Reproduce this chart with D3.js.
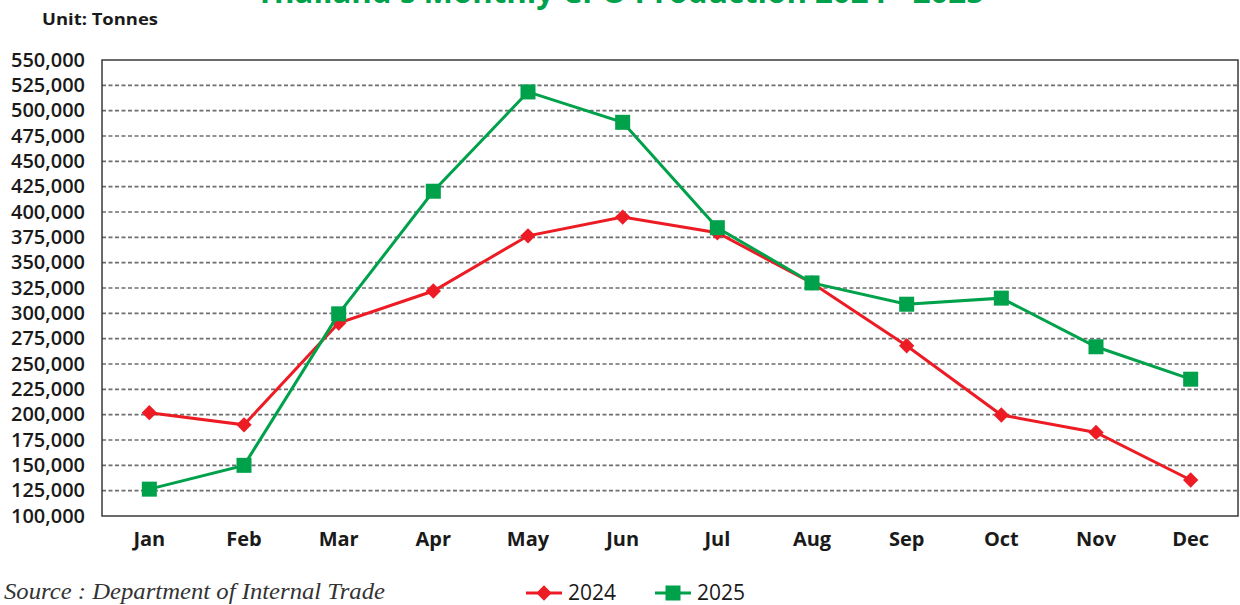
<!DOCTYPE html>
<html>
<head>
<meta charset="utf-8">
<script src="https://cdn.jsdelivr.net/npm/d3@7"></script>
<style>
  body { margin: 0; background: #fff; }
  svg { display: block; }
</style>
</head>
<body>
<div></div>
<script>
// chart data
var months = ["Jan", "Feb", "Mar", "Apr", "May", "Jun", "Jul", "Aug", "Sep", "Oct", "Nov", "Dec"];
var prod2024 = [202000, 190000, 290500, 322000, 376500, 395000, 379500, 330000, 268000, 199700, 182500, 135500];
var prod2025 = [126500, 150000, 299500, 420500, 518500, 488500, 384500, 330000, 309000, 315000, 267000, 235000];
var yTicks = d3.range(100000, 550001, 25000);

var W = 1240, H = 605;
var margin = {top: 60, right: 2, bottom: 89, left: 102},
    width = W - margin.left - margin.right,
    height = H - margin.top - margin.bottom;

var red = "#ed1c24", green = "#00a14b";

var svg = d3.select("div").append("svg")
    .attr("width", W)
    .attr("height", H);

var g = svg.append("g")
    .attr("transform", "translate(" + margin.left + "," + margin.top + ")");

var x = d3.scaleBand().domain(months).range([0, width]);
var y = d3.scaleLinear().domain([100000, 550000]).range([height, 0]);

// dashed grid lines
g.append("g")
    .selectAll("line")
    .data(yTicks.slice(1, -1))
    .enter().append("line")
    .attr("x1", 0)
    .attr("x2", width)
    .attr("y1", function(d) { return y(d); })
    .attr("y2", function(d) { return y(d); })
    .style("stroke", "#6d6d6d")
    .style("stroke-width", 1.6)
    .style("stroke-dasharray", "4,2.5");

// plot border
g.append("rect")
    .attr("width", width)
    .attr("height", height)
    .style("fill", "none")
    .style("stroke", "#3a3a3a")
    .style("stroke-width", 1.5);

// y axis
var yAxis = g.append("g")
    .call(d3.axisLeft(y).tickValues(yTicks).tickSize(0).tickPadding(17).tickFormat(d3.format(",")));
yAxis.select(".domain").remove();
yAxis.selectAll("text")
    .attr("textLength", 74)
    .attr("lengthAdjust", "spacingAndGlyphs")
    .style("font-family", "'Open Sans', sans-serif")
    .style("font-size", "19px")
    .style("font-weight", 600)
    .style("fill", "#1a1a1a");

// x axis
var xAxis = g.append("g")
    .attr("transform", "translate(0," + height + ")")
    .call(d3.axisBottom(x).tickSize(0).tickPadding(16));
xAxis.select(".domain").remove();
xAxis.selectAll("text")
    .style("font-family", "'Open Sans', sans-serif")
    .style("font-size", "20px")
    .style("font-weight", 700)
    .style("fill", "#1a1a1a");

var line = d3.line()
    .x(function(d, i) { return x(months[i]) + x.bandwidth() / 2; })
    .y(function(d) { return y(d); });

// 2024 line + diamonds
g.append("path")
    .datum(prod2024)
    .attr("d", line)
    .style("fill", "none")
    .style("stroke", red)
    .style("stroke-width", 3);

g.selectAll(".d2024")
    .data(prod2024)
    .enter().append("path")
    .attr("class", "d2024")
    .attr("d", d3.symbol().type(d3.symbolDiamond2).size(150))
    .attr("transform", function(d, i) {
        return "translate(" + (x(months[i]) + x.bandwidth() / 2) + "," + y(d) + ")";
    })
    .style("fill", red);

// 2025 line + squares
g.append("path")
    .datum(prod2025)
    .attr("d", line)
    .style("fill", "none")
    .style("stroke", green)
    .style("stroke-width", 3);

g.selectAll(".s2025")
    .data(prod2025)
    .enter().append("rect")
    .attr("class", "s2025")
    .attr("x", function(d, i) { return x(months[i]) + x.bandwidth() / 2 - 7.5; })
    .attr("y", function(d) { return y(d) - 7.5; })
    .attr("width", 15)
    .attr("height", 15)
    .style("fill", green);

// title (clipped at top, as in the original)
svg.append("text")
    .text("Thailand's Monthly CPO Production 2024 - 2025")
    .attr("x", 620)
    .attr("y", 3)
    .attr("text-anchor", "middle")
    .attr("textLength", 728)
    .attr("lengthAdjust", "spacingAndGlyphs")
    .style("font-family", "'Open Sans', sans-serif")
    .style("font-size", "30px")
    .style("font-weight", 700)
    .style("fill", green);

svg.append("text")
    .text("Unit: Tonnes")
    .attr("x", 42)
    .attr("y", 25)
    .attr("textLength", 116)
    .attr("lengthAdjust", "spacingAndGlyphs")
    .style("font-family", "'Open Sans', sans-serif")
    .style("font-size", "16px")
    .style("font-weight", 700)
    .style("fill", "#1a1a1a");

svg.append("text")
    .text("Source : Department of Internal Trade")
    .attr("x", 4)
    .attr("y", 599)
    .attr("textLength", 381)
    .attr("lengthAdjust", "spacingAndGlyphs")
    .style("font-family", "'Liberation Serif', serif")
    .style("font-size", "24px")
    .style("font-style", "italic")
    .style("fill", "#333");

// legend
var legend = svg.append("g").attr("class", "legend");

legend.append("line")
    .attr("x1", 526).attr("x2", 562).attr("y1", 593).attr("y2", 593)
    .style("stroke", red).style("stroke-width", 3);
legend.append("path")
    .attr("d", d3.symbol().type(d3.symbolDiamond2).size(150))
    .attr("transform", "translate(544,593)")
    .style("fill", red);
legend.append("text")
    .text("2024")
    .attr("x", 568).attr("y", 600)
    .style("font-family", "'Open Sans', sans-serif")
    .style("font-size", "21px")
    .style("fill", "#1a1a1a");

legend.append("line")
    .attr("x1", 655).attr("x2", 691).attr("y1", 593).attr("y2", 593)
    .style("stroke", green).style("stroke-width", 3);
legend.append("rect")
    .attr("x", 665.5).attr("y", 585.5).attr("width", 15).attr("height", 15)
    .style("fill", green);
legend.append("text")
    .text("2025")
    .attr("x", 697).attr("y", 600)
    .style("font-family", "'Open Sans', sans-serif")
    .style("font-size", "21px")
    .style("fill", "#1a1a1a");
</script>
</body>
</html>
